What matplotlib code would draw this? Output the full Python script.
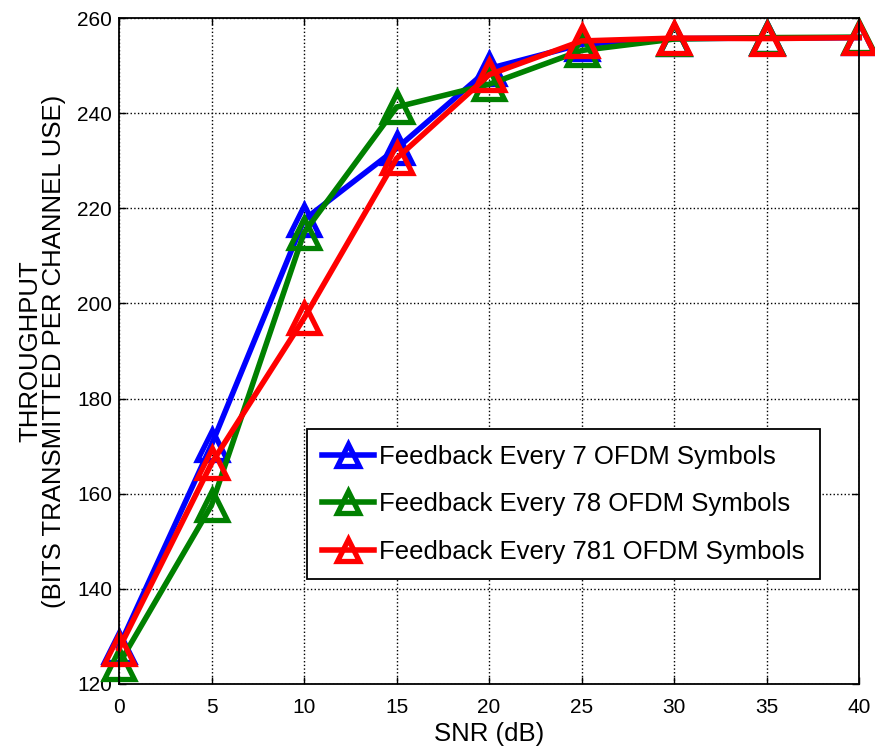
import matplotlib
matplotlib.use("Agg")
import matplotlib.pyplot as plt

plt.rcParams['font.family'] = ['Liberation Sans', 'DejaVu Sans']

snr_db = [0, 5, 10, 15, 20, 25, 30, 35, 40]
fb_7 = [127.8, 170.3, 217.6, 232.6, 249.4, 254.5, 255.7, 255.8, 255.9]
fb_78 = [124.2, 157.6, 214.9, 241.3, 246.1, 253.2, 255.6, 255.9, 256.0]
fb_781 = [127.4, 166.4, 196.9, 230.5, 248.1, 255.2, 255.8, 255.7, 255.9]

series = [
    (fb_7, "blue", "Feedback Every 7 OFDM Symbols"),
    (fb_78, "green", "Feedback Every 78 OFDM Symbols"),
    (fb_781, "red", "Feedback Every 781 OFDM Symbols"),
]

x_ticks = [0, 5, 10, 15, 20, 25, 30, 35, 40]
y_ticks = [120, 140, 160, 180, 200, 220, 240, 260]

fig = plt.figure(figsize=(8.75, 7.49), dpi=100)
ax = fig.add_axes([0.136, 0.0868, 0.846, 0.889])

for vals, col, lab in series:
    ax.plot(snr_db, vals, color=col, linewidth=4, marker="^", markersize=22,
            markerfacecolor="none", markeredgecolor=col, markeredgewidth=3.8,
            label=lab, clip_on=False)

ax.set_xlim(0, 40)
ax.set_ylim(120, 260)
ax.set_xticks(x_ticks)
ax.set_yticks(y_ticks)
ax.tick_params(direction="in", labelsize=15, length=5, width=1, top=True, right=True)
ax.tick_params(axis="x", pad=10)
ax.tick_params(axis="y", pad=5)
ax.grid(True, color="black", linestyle=":", linewidth=1)
for sp in ax.spines.values():
    sp.set_linewidth(1.3)

ax.set_xlabel("SNR (dB)", fontsize=18.5, labelpad=4)
ax.set_ylabel("THROUGHPUT\n(BITS TRANSMITTED PER CHANNEL USE)", fontsize=18.5,
              labelpad=8, linespacing=1.0)

leg = ax.legend(loc="lower left", bbox_to_anchor=(0.254, 0.157), fontsize=18.5,
                frameon=True, fancybox=False, edgecolor="black", framealpha=1,
                handlelength=2.0, handletextpad=0.2, borderpad=0.6,
                labelspacing=0.92, markerscale=0.7, borderaxespad=0)
leg.get_frame().set_linewidth(1.3)

fig.savefig("out.png", dpi=100, facecolor="white")
